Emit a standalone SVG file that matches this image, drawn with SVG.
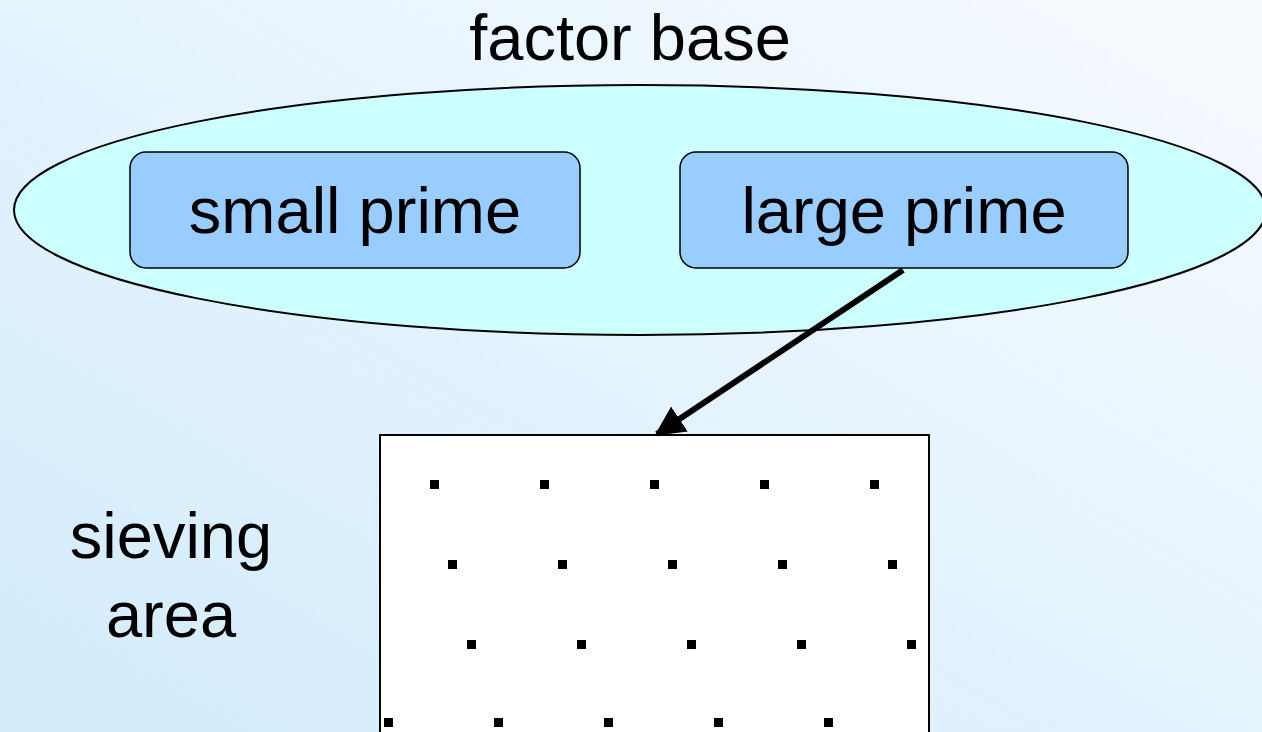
<svg xmlns="http://www.w3.org/2000/svg" width="1262" height="732" viewBox="0 0 1262 732">
<defs>
<linearGradient id="bg" x1="0" y1="1" x2="1" y2="0">
<stop offset="0" stop-color="#d2ebfb"/>
<stop offset="1" stop-color="#f7fbff"/>
</linearGradient>
<marker id="ah" viewBox="0 0 10 10" refX="9" refY="5" markerWidth="5" markerHeight="5" orient="auto" markerUnits="strokeWidth">
<path d="M0,0 L10,5 L0,10 Z" fill="#000"/>
</marker>
<style>
text{font-family:"Liberation Sans",Arial,sans-serif;fill:#000;font-size:65px;text-anchor:middle}
.box{fill:#99ccff;stroke:#000;stroke-width:1.5}
.dot{fill:#000}
</style>
</defs>
<rect width="1262" height="732" fill="url(#bg)"/>
<text x="630" y="60">factor base</text>
<g id="factor-base">
<ellipse cx="640" cy="210" rx="626" ry="125" fill="#ccffff" stroke="#000" stroke-width="2"/>
</g>
<g id="small-prime">
<rect class="box" x="130" y="152" width="450" height="116" rx="16"/>
<text x="355" y="233">small prime</text>
</g>
<g id="large-prime">
<rect class="box" x="680" y="152" width="448" height="116" rx="16"/>
<text x="904" y="233">large prime</text>
</g>
<g id="sieving-area">
<rect x="380" y="435" width="549" height="320" fill="#fff" stroke="#000" stroke-width="2"/>
<g class="dot">
<rect x="430" y="480" width="9" height="9"/><rect x="540" y="480" width="9" height="9"/><rect x="650" y="480" width="9" height="9"/><rect x="760" y="480" width="9" height="9"/><rect x="870" y="480" width="9" height="9"/>
<rect x="448" y="560" width="9" height="9"/><rect x="558" y="560" width="9" height="9"/><rect x="668" y="560" width="9" height="9"/><rect x="778" y="560" width="9" height="9"/><rect x="888" y="560" width="9" height="9"/>
<rect x="467" y="640" width="9" height="9"/><rect x="577" y="640" width="9" height="9"/><rect x="687" y="640" width="9" height="9"/><rect x="797" y="640" width="9" height="9"/><rect x="907" y="640" width="9" height="9"/>
<rect x="384" y="718" width="9" height="9"/><rect x="494" y="718" width="9" height="9"/><rect x="604" y="718" width="9" height="9"/><rect x="714" y="718" width="9" height="9"/><rect x="824" y="718" width="9" height="9"/>
</g>
</g>
<g id="label-sieving">
<text x="171" y="558">sieving</text>
<text x="171" y="637">area</text>
</g>
<g id="connectors">
<line x1="903" y1="270" x2="657" y2="434" stroke="#000" stroke-width="6" marker-end="url(#ah)"/>
</g>
</svg>
